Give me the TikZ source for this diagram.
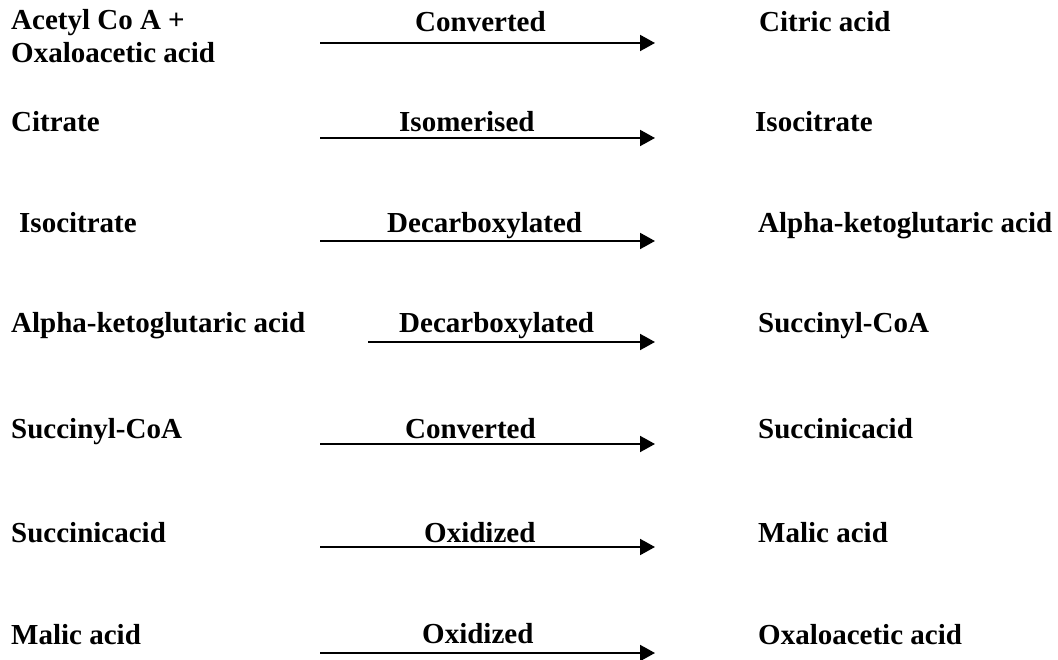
\documentclass[tikz,border=0pt]{standalone}
\usepackage{fontspec}
\setmainfont{Liberation Serif}
\usetikzlibrary{arrows.meta,positioning}
\tikzset{
  cmpd/.style={font=\fontsize{29}{33}\selectfont\bfseries, inner sep=0pt, anchor=base west, align=left},
  rxn/.style={cmpd},
  conv/.style={-{Triangle[length=15pt,width=16pt]}, line width=2pt}
}

\begin{document}
\begin{tikzpicture}[x=1pt, y=1pt]
  \useasboundingbox (0,0) rectangle (1058,-660);
  % row 1
  \node[cmpd] (l1) at (11,-63) {Acetyl Co A +\\Oxaloacetic acid};
  \node[rxn] (t1) at (415,-32) {Converted};
  \node[cmpd] (r1) at (759,-32) {Citric acid};
  \coordinate (s1) at (320,-43); \coordinate (e1) at (655,-43);
  \draw[conv] (s1) -- (e1);
  % row 2
  \node[cmpd] (l2) at (11,-132) {Citrate};
  \node[rxn] (t2) at (399,-132) {Isomerised};
  \node[cmpd] (r2) at (755,-132) {Isocitrate};
  \coordinate (s2) at (320,-138); \coordinate (e2) at (655,-138);
  \draw[conv] (s2) -- (e2);
  % row 3
  \node[cmpd] (l3) at (19,-233) {Isocitrate};
  \node[rxn] (t3) at (387,-233) {Decarboxylated};
  \node[cmpd] (r3) at (758,-233) {Alpha-ketoglutaric acid};
  \coordinate (s3) at (320,-241); \coordinate (e3) at (655,-241);
  \draw[conv] (s3) -- (e3);
  % row 4
  \node[cmpd] (l4) at (11,-333) {Alpha-ketoglutaric acid};
  \node[rxn] (t4) at (399,-333) {Decarboxylated};
  \node[cmpd] (r4) at (758,-333) {Succinyl-CoA};
  \coordinate (s4) at (368,-342); \coordinate (e4) at (655,-342);
  \draw[conv] (s4) -- (e4);
  % row 5
  \node[cmpd] (l5) at (11,-438) {Succinyl-CoA};
  \node[rxn] (t5) at (405,-438) {Converted};
  \node[cmpd] (r5) at (758,-438) {Succinicacid};
  \coordinate (s5) at (320,-444); \coordinate (e5) at (655,-444);
  \draw[conv] (s5) -- (e5);
  % row 6
  \node[cmpd] (l6) at (11,-542) {Succinicacid};
  \node[rxn] (t6) at (424,-542) {Oxidized};
  \node[cmpd] (r6) at (758,-542) {Malic acid};
  \coordinate (s6) at (320,-547); \coordinate (e6) at (655,-547);
  \draw[conv] (s6) -- (e6);
  % row 7
  \node[cmpd] (l7) at (11,-644) {Malic acid};
  \node[rxn] (t7) at (422,-643) {Oxidized};
  \node[cmpd] (r7) at (758,-644) {Oxaloacetic acid};
  \coordinate (s7) at (320,-653); \coordinate (e7) at (655,-653);
  \draw[conv] (s7) -- (e7);
\end{tikzpicture}
\end{document}
